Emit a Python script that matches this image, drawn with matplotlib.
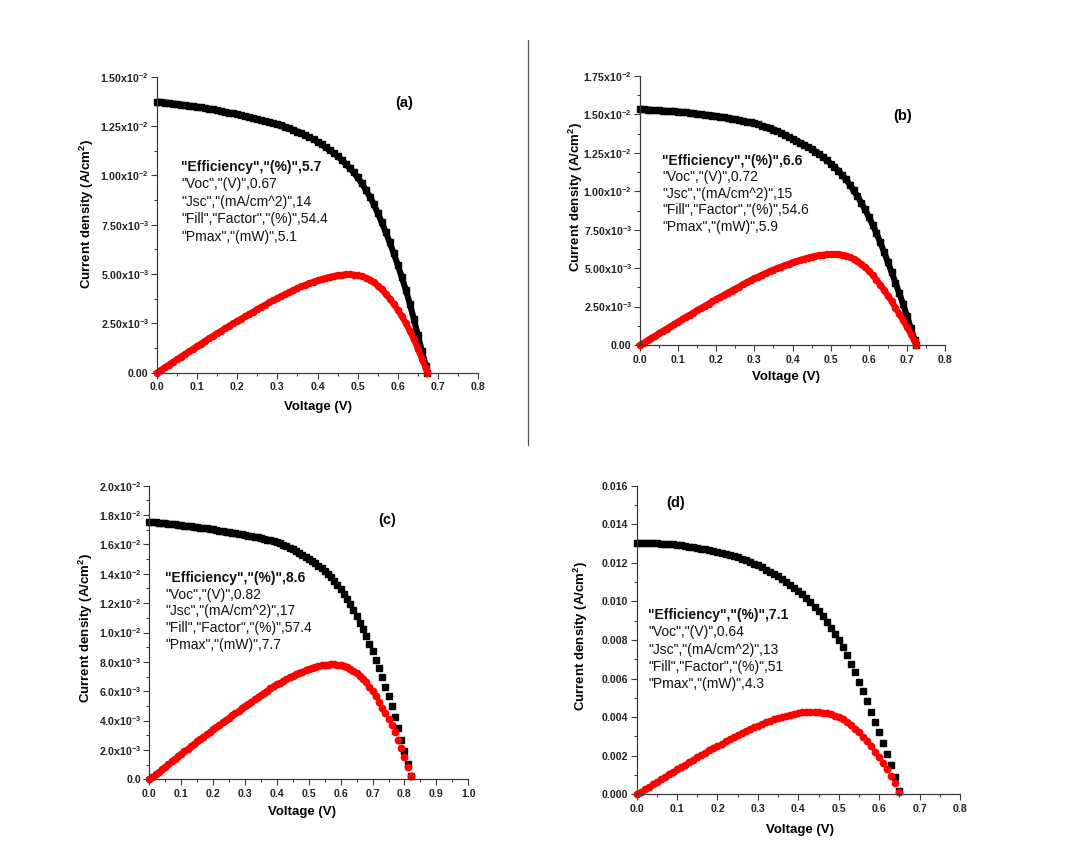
import matplotlib
matplotlib.use("Agg")
import matplotlib.pyplot as plt
from matplotlib.ticker import MultipleLocator, FixedLocator, FixedFormatter

plt.rcParams['font.family'] = ['Liberation Sans', 'DejaVu Sans']
plt.rcParams['mathtext.fontset'] = 'custom'
plt.rcParams['mathtext.rm'] = 'Liberation Sans'
plt.rcParams['mathtext.bf'] = 'Liberation Sans:bold'
plt.rcParams['mathtext.default'] = 'bf'

# ---- data (V in volts, J and P in A/cm^2 units of the plot) ----
v_a = [0.00, 0.01, 0.02, 0.03, 0.04, 0.05, 0.06, 0.07, 0.08, 0.09,
       0.10, 0.11, 0.12, 0.13, 0.14, 0.15, 0.16, 0.17, 0.18, 0.19,
       0.20, 0.21, 0.22, 0.23, 0.24, 0.25, 0.26, 0.27, 0.28, 0.29,
       0.30, 0.31, 0.32, 0.33, 0.34, 0.35, 0.36, 0.37, 0.38, 0.39,
       0.40, 0.41, 0.42, 0.43, 0.44, 0.45, 0.46, 0.47, 0.48, 0.49,
       0.50, 0.51, 0.52, 0.53, 0.54, 0.55, 0.56, 0.57, 0.58, 0.59,
       0.60, 0.61, 0.62, 0.63, 0.64, 0.65, 0.66, 0.67, 0.674]
j_a = [0.01374, 0.01372, 0.01369, 0.01367, 0.01364, 0.01362, 0.01359, 0.01356, 0.01353, 0.01351,
       0.01348, 0.01345, 0.01341, 0.01338, 0.01334, 0.01331, 0.01327, 0.01322, 0.01318, 0.01314,
       0.01310, 0.01305, 0.01300, 0.01295, 0.01289, 0.01284, 0.01280, 0.01275, 0.01270, 0.01265,
       0.01260, 0.01253, 0.01246, 0.01238, 0.01230, 0.01222, 0.01213, 0.01203, 0.01193, 0.01182,
       0.01170, 0.01157, 0.01143, 0.01128, 0.01113, 0.01097, 0.01079, 0.01059, 0.01038, 0.01015,
       0.00990, 0.00960, 0.00928, 0.00893, 0.00854, 0.00810, 0.00762, 0.00712, 0.00660, 0.00605,
       0.00546, 0.00484, 0.00420, 0.00350, 0.00273, 0.00191, 0.00110, 0.00035, 0.00000]
p_a = [0.00000, 0.00014, 0.00027, 0.00041, 0.00055, 0.00068, 0.00082, 0.00095, 0.00108, 0.00122,
       0.00135, 0.00148, 0.00161, 0.00174, 0.00187, 0.00200, 0.00212, 0.00225, 0.00237, 0.00250,
       0.00262, 0.00274, 0.00286, 0.00298, 0.00309, 0.00321, 0.00333, 0.00344, 0.00356, 0.00367,
       0.00378, 0.00388, 0.00399, 0.00409, 0.00418, 0.00428, 0.00437, 0.00445, 0.00453, 0.00461,
       0.00468, 0.00474, 0.00480, 0.00485, 0.00490, 0.00494, 0.00496, 0.00498, 0.00498, 0.00497,
       0.00494, 0.00489, 0.00482, 0.00472, 0.00459, 0.00442, 0.00422, 0.00400, 0.00375, 0.00348,
       0.00318, 0.00286, 0.00252, 0.00213, 0.00170, 0.00122, 0.00071, 0.00023, 0.00000]

v_b = [0.00, 0.01, 0.02, 0.03, 0.04, 0.05, 0.06, 0.07, 0.08, 0.09,
       0.10, 0.11, 0.12, 0.13, 0.14, 0.15, 0.16, 0.17, 0.18, 0.19,
       0.20, 0.21, 0.22, 0.23, 0.24, 0.25, 0.26, 0.27, 0.28, 0.29,
       0.30, 0.31, 0.32, 0.33, 0.34, 0.35, 0.36, 0.37, 0.38, 0.39,
       0.40, 0.41, 0.42, 0.43, 0.44, 0.45, 0.46, 0.47, 0.48, 0.49,
       0.50, 0.51, 0.52, 0.53, 0.54, 0.55, 0.56, 0.57, 0.58, 0.59,
       0.60, 0.61, 0.62, 0.63, 0.64, 0.65, 0.66, 0.67, 0.68, 0.69,
       0.70, 0.71, 0.72, 0.725]
j_b = [0.01535, 0.01533, 0.01532, 0.01530, 0.01528, 0.01527, 0.01525, 0.01523, 0.01521, 0.01520,
       0.01518, 0.01516, 0.01513, 0.01510, 0.01508, 0.01505, 0.01502, 0.01499, 0.01496, 0.01493,
       0.01490, 0.01486, 0.01482, 0.01478, 0.01473, 0.01468, 0.01463, 0.01458, 0.01453, 0.01448,
       0.01442, 0.01435, 0.01427, 0.01419, 0.01410, 0.01400, 0.01390, 0.01379, 0.01367, 0.01355,
       0.01342, 0.01329, 0.01317, 0.01304, 0.01290, 0.01275, 0.01259, 0.01242, 0.01223, 0.01202,
       0.01180, 0.01158, 0.01134, 0.01107, 0.01077, 0.01044, 0.01008, 0.00969, 0.00927, 0.00882,
       0.00834, 0.00784, 0.00729, 0.00669, 0.00606, 0.00541, 0.00474, 0.00406, 0.00337, 0.00267,
       0.00190, 0.00112, 0.00035, 0.00000]
p_b = [0.00000, 0.00015, 0.00031, 0.00046, 0.00061, 0.00076, 0.00092, 0.00107, 0.00122, 0.00137,
       0.00152, 0.00167, 0.00182, 0.00196, 0.00211, 0.00226, 0.00240, 0.00255, 0.00269, 0.00284,
       0.00298, 0.00312, 0.00326, 0.00340, 0.00354, 0.00367, 0.00380, 0.00394, 0.00407, 0.00420,
       0.00433, 0.00445, 0.00457, 0.00468, 0.00479, 0.00490, 0.00500, 0.00510, 0.00519, 0.00528,
       0.00537, 0.00545, 0.00553, 0.00561, 0.00568, 0.00574, 0.00579, 0.00584, 0.00587, 0.00589,
       0.00590, 0.00591, 0.00590, 0.00587, 0.00582, 0.00572, 0.00561, 0.00545, 0.00527, 0.00506,
       0.00482, 0.00455, 0.00425, 0.00393, 0.00358, 0.00322, 0.00284, 0.00244, 0.00203, 0.00161,
       0.00117, 0.00072, 0.00025, 0.00000]

v_c = [0.00, 0.01, 0.02, 0.03, 0.04, 0.05, 0.06, 0.07, 0.08, 0.09,
       0.10, 0.11, 0.12, 0.13, 0.14, 0.15, 0.16, 0.17, 0.18, 0.19,
       0.20, 0.21, 0.22, 0.23, 0.24, 0.25, 0.26, 0.27, 0.28, 0.29,
       0.30, 0.31, 0.32, 0.33, 0.34, 0.35, 0.36, 0.37, 0.38, 0.39,
       0.40, 0.41, 0.42, 0.43, 0.44, 0.45, 0.46, 0.47, 0.48, 0.49,
       0.50, 0.51, 0.52, 0.53, 0.54, 0.55, 0.56, 0.57, 0.58, 0.59,
       0.60, 0.61, 0.62, 0.63, 0.64, 0.65, 0.66, 0.67, 0.68, 0.69,
       0.70, 0.71, 0.72, 0.73, 0.74, 0.75, 0.76, 0.77, 0.78, 0.79,
       0.80, 0.81, 0.82]
j_c = [0.01755, 0.01752, 0.01750, 0.01748, 0.01746, 0.01744, 0.01741, 0.01739, 0.01737, 0.01734,
       0.01732, 0.01729, 0.01726, 0.01723, 0.01720, 0.01718, 0.01715, 0.01712, 0.01709, 0.01706,
       0.01703, 0.01699, 0.01695, 0.01691, 0.01687, 0.01683, 0.01680, 0.01676, 0.01672, 0.01668,
       0.01664, 0.01660, 0.01656, 0.01652, 0.01648, 0.01643, 0.01638, 0.01633, 0.01628, 0.01622,
       0.01616, 0.01607, 0.01598, 0.01588, 0.01577, 0.01566, 0.01555, 0.01543, 0.01530, 0.01517,
       0.01503, 0.01488, 0.01472, 0.01455, 0.01437, 0.01418, 0.01397, 0.01375, 0.01351, 0.01326,
       0.01299, 0.01265, 0.01229, 0.01191, 0.01151, 0.01110, 0.01067, 0.01022, 0.00975, 0.00925,
       0.00872, 0.00816, 0.00757, 0.00695, 0.00631, 0.00565, 0.00497, 0.00424, 0.00348, 0.00270,
       0.00190, 0.00107, 0.00022]
p_c = [0.00000, 0.00018, 0.00035, 0.00052, 0.00070, 0.00087, 0.00105, 0.00122, 0.00139, 0.00156,
       0.00173, 0.00190, 0.00207, 0.00224, 0.00241, 0.00258, 0.00274, 0.00291, 0.00308, 0.00324,
       0.00341, 0.00357, 0.00373, 0.00389, 0.00405, 0.00421, 0.00437, 0.00453, 0.00468, 0.00484,
       0.00499, 0.00515, 0.00530, 0.00545, 0.00560, 0.00575, 0.00590, 0.00604, 0.00619, 0.00633,
       0.00646, 0.00659, 0.00671, 0.00683, 0.00694, 0.00705, 0.00715, 0.00725, 0.00734, 0.00743,
       0.00752, 0.00759, 0.00765, 0.00771, 0.00776, 0.00780, 0.00782, 0.00784, 0.00784, 0.00782,
       0.00779, 0.00772, 0.00762, 0.00750, 0.00737, 0.00722, 0.00703, 0.00683, 0.00660, 0.00632,
       0.00600, 0.00565, 0.00528, 0.00488, 0.00450, 0.00410, 0.00370, 0.00320, 0.00270, 0.00210,
       0.00150, 0.00085, 0.00020]

v_d = [0.00, 0.01, 0.02, 0.03, 0.04, 0.05, 0.06, 0.07, 0.08, 0.09,
       0.10, 0.11, 0.12, 0.13, 0.14, 0.15, 0.16, 0.17, 0.18, 0.19,
       0.20, 0.21, 0.22, 0.23, 0.24, 0.25, 0.26, 0.27, 0.28, 0.29,
       0.30, 0.31, 0.32, 0.33, 0.34, 0.35, 0.36, 0.37, 0.38, 0.39,
       0.40, 0.41, 0.42, 0.43, 0.44, 0.45, 0.46, 0.47, 0.48, 0.49,
       0.50, 0.51, 0.52, 0.53, 0.54, 0.55, 0.56, 0.57, 0.58, 0.59,
       0.60, 0.61, 0.62, 0.63, 0.64, 0.65]
j_d = [0.01305, 0.01305, 0.01304, 0.01303, 0.01302, 0.01301, 0.01300, 0.01299, 0.01297, 0.01295,
       0.01293, 0.01290, 0.01287, 0.01284, 0.01281, 0.01278, 0.01274, 0.01270, 0.01266, 0.01262,
       0.01258, 0.01253, 0.01247, 0.01241, 0.01235, 0.01228, 0.01220, 0.01212, 0.01204, 0.01196,
       0.01187, 0.01176, 0.01165, 0.01154, 0.01142, 0.01130, 0.01116, 0.01102, 0.01087, 0.01071,
       0.01055, 0.01036, 0.01016, 0.00995, 0.00972, 0.00948, 0.00922, 0.00894, 0.00864, 0.00832,
       0.00798, 0.00761, 0.00721, 0.00678, 0.00632, 0.00584, 0.00534, 0.00482, 0.00428, 0.00375,
       0.00322, 0.00266, 0.00210, 0.00152, 0.00090, 0.00018]
p_d = [0.00000, 0.00013, 0.00026, 0.00039, 0.00052, 0.00065, 0.00078, 0.00091, 0.00104, 0.00117,
       0.00129, 0.00142, 0.00154, 0.00167, 0.00179, 0.00192, 0.00204, 0.00216, 0.00228, 0.00240,
       0.00252, 0.00263, 0.00274, 0.00285, 0.00296, 0.00307, 0.00317, 0.00327, 0.00337, 0.00347,
       0.00356, 0.00365, 0.00373, 0.00381, 0.00388, 0.00396, 0.00402, 0.00408, 0.00413, 0.00418,
       0.00422, 0.00425, 0.00427, 0.00428, 0.00428, 0.00427, 0.00424, 0.00420, 0.00415, 0.00408,
       0.00399, 0.00388, 0.00375, 0.00359, 0.00341, 0.00321, 0.00299, 0.00275, 0.00248, 0.00221,
       0.00193, 0.00162, 0.00130, 0.00096, 0.00058, 0.00012]

# y tick values / labels as printed on each panel
yt_a = [0.0, 0.0025, 0.005, 0.0075, 0.01, 0.0125, 0.015]
yl_a = ['0.00', '2.50x10$^{-3}$', '5.00x10$^{-3}$', '7.50x10$^{-3}$',
        '1.00x10$^{-2}$', '1.25x10$^{-2}$', '1.50x10$^{-2}$']
yt_b = [0.0, 0.0025, 0.005, 0.0075, 0.01, 0.0125, 0.015, 0.0175]
yl_b = ['0.00', '2.50x10$^{-3}$', '5.00x10$^{-3}$', '7.50x10$^{-3}$',
        '1.00x10$^{-2}$', '1.25x10$^{-2}$', '1.50x10$^{-2}$', '1.75x10$^{-2}$']
yt_c = [0.0, 0.002, 0.004, 0.006, 0.008, 0.010, 0.012, 0.014, 0.016, 0.018, 0.020]
yl_c = ['0.0', '2.0x10$^{-3}$', '4.0x10$^{-3}$', '6.0x10$^{-3}$', '8.0x10$^{-3}$',
        '1.0x10$^{-2}$', '1.2x10$^{-2}$', '1.4x10$^{-2}$', '1.6x10$^{-2}$',
        '1.8x10$^{-2}$', '2.0x10$^{-2}$']
yt_d = [0.0, 0.002, 0.004, 0.006, 0.008, 0.010, 0.012, 0.014, 0.016]
yl_d = ['0.000', '0.002', '0.004', '0.006', '0.008', '0.010', '0.012', '0.014', '0.016']

notes_a = ['"Efficiency","(%)",5.7', '"Voc","(V)",0.67', '"Jsc","(mA/cm^2)",14',
           '"Fill","Factor","(%)",54.4', '"Pmax","(mW)",5.1']
notes_b = ['"Efficiency","(%)",6.6', '"Voc","(V)",0.72', '"Jsc","(mA/cm^2)",15',
           '"Fill","Factor","(%)",54.6', '"Pmax","(mW)",5.9']
notes_c = ['"Efficiency","(%)",8.6', '"Voc","(V)",0.82', '"Jsc","(mA/cm^2)",17',
           '"Fill","Factor","(%)",57.4', '"Pmax","(mW)",7.7']
notes_d = ['"Efficiency","(%)",7.1', '"Voc","(V)",0.64', '"Jsc","(mA/cm^2)",13',
           '"Fill","Factor","(%)",51', '"Pmax","(mW)",4.3']

fig = plt.figure(figsize=(10.8, 8.66), dpi=100)
fig.patch.set_facecolor('white')

panels = [
    # rect, v, j, p, xmax, yticks, ylabels, ymax, letter, letter pos, notes, note pos,
    # dense band?, ylabel coords, xlabel coords
    ([0.1454, 0.5696, 0.2972, 0.3418], v_a, j_a, p_a, 0.8, yt_a, yl_a, 0.015,
     '(a)', (0.77, 0.91), notes_a, (0.075, 0.695, 0.059), True, (-0.19, 0.536), (0.5, -0.097)),
    ([0.5926, 0.6016, 0.2824, 0.3106], v_b, j_b, p_b, 0.8, yt_b, yl_b, 0.0175,
     '(b)', (0.86, 0.85), notes_b, (0.072, 0.684, 0.061), True, (-0.18, 0.551), (0.48, -0.095)),
    ([0.1382, 0.1001, 0.2954, 0.3390], v_c, j_c, p_c, 1.0, yt_c, yl_c, 0.020,
     '(c)', (0.745, 0.883), notes_c, (0.049, 0.686, 0.057), False, (-0.17, 0.515), (0.478, -0.092)),
    ([0.5895, 0.0828, 0.2994, 0.3564], v_d, j_d, p_d, 0.8, yt_d, yl_d, 0.016,
     '(d)', (0.12, 0.944), notes_d, (0.035, 0.581, 0.056), False, (-0.145, 0.513), (0.505, -0.097)),
]

axis_col = '#3a3a3a'
for (rect, v, j, p, xmax, yt, yl, ymax, letter, lpos, notes, npos,
     dense, ylab_xy, xlab_xy) in panels:
    ax = fig.add_axes(rect)
    if dense:
        ax.plot(v, j, color='black', lw=4.4, marker='s', ms=4.4, solid_capstyle='butt', clip_on=False)
        ax.plot(v, p, color='red', lw=4.4, marker='o', ms=4.4, clip_on=False)
    else:
        ax.plot(v, j, ls='none', color='black', marker='s', ms=4.4, clip_on=False)
        ax.plot(v, p, ls='none', color='red', marker='o', ms=4.6, mec='red', clip_on=False)

    ax.set_xlim(0, xmax)
    ax.set_ylim(0, ymax)
    ax.xaxis.set_major_locator(MultipleLocator(0.1))
    ax.xaxis.set_minor_locator(MultipleLocator(0.05))
    ax.set_xticklabels([f'{t:.1f}' for t in ax.get_xticks()])
    ax.yaxis.set_major_locator(FixedLocator(yt))
    ax.yaxis.set_major_formatter(FixedFormatter(yl))
    ax.yaxis.set_minor_locator(MultipleLocator((yt[1] - yt[0]) / 2))

    for s in ['top', 'right']:
        ax.spines[s].set_visible(False)
    for s in ['left', 'bottom']:
        ax.spines[s].set_color(axis_col)
        ax.spines[s].set_linewidth(0.9)
    ax.tick_params(which='both', direction='out', color=axis_col, width=0.8)
    ax.tick_params(which='major', length=4, labelsize=7.6)
    ax.tick_params(axis='y', which='major', pad=2)
    ax.tick_params(axis='x', which='major', pad=3)
    ax.tick_params(which='minor', length=2.5)
    for lab in ax.get_xticklabels() + ax.get_yticklabels():
        lab.set_fontweight('bold')
        lab.set_color('#222222')

    ax.set_xlabel('Voltage (V)', fontsize=9.5, fontweight='bold')
    ax.set_ylabel('Current density (A/cm$^2$)', fontsize=9.5, fontweight='bold')
    ax.yaxis.set_label_coords(*ylab_xy)
    ax.xaxis.set_label_coords(*xlab_xy)

    ax.text(lpos[0], lpos[1], letter, transform=ax.transAxes, fontsize=10.5,
            fontweight='bold', ha='center', va='center')
    x0, y0, dy = npos
    for k, line in enumerate(notes):
        ax.text(x0, y0 - k * dy, line, transform=ax.transAxes, fontsize=10,
                fontweight='bold' if k == 0 else 'normal', ha='left', va='center',
                color='#111111')

# thin divider between the two upper panels
fig.add_artist(plt.Line2D([0.4889, 0.4889], [0.486, 0.954], transform=fig.transFigure,
                          color='#555555', lw=0.9))

fig.savefig('out.png', dpi=100, facecolor='white')
